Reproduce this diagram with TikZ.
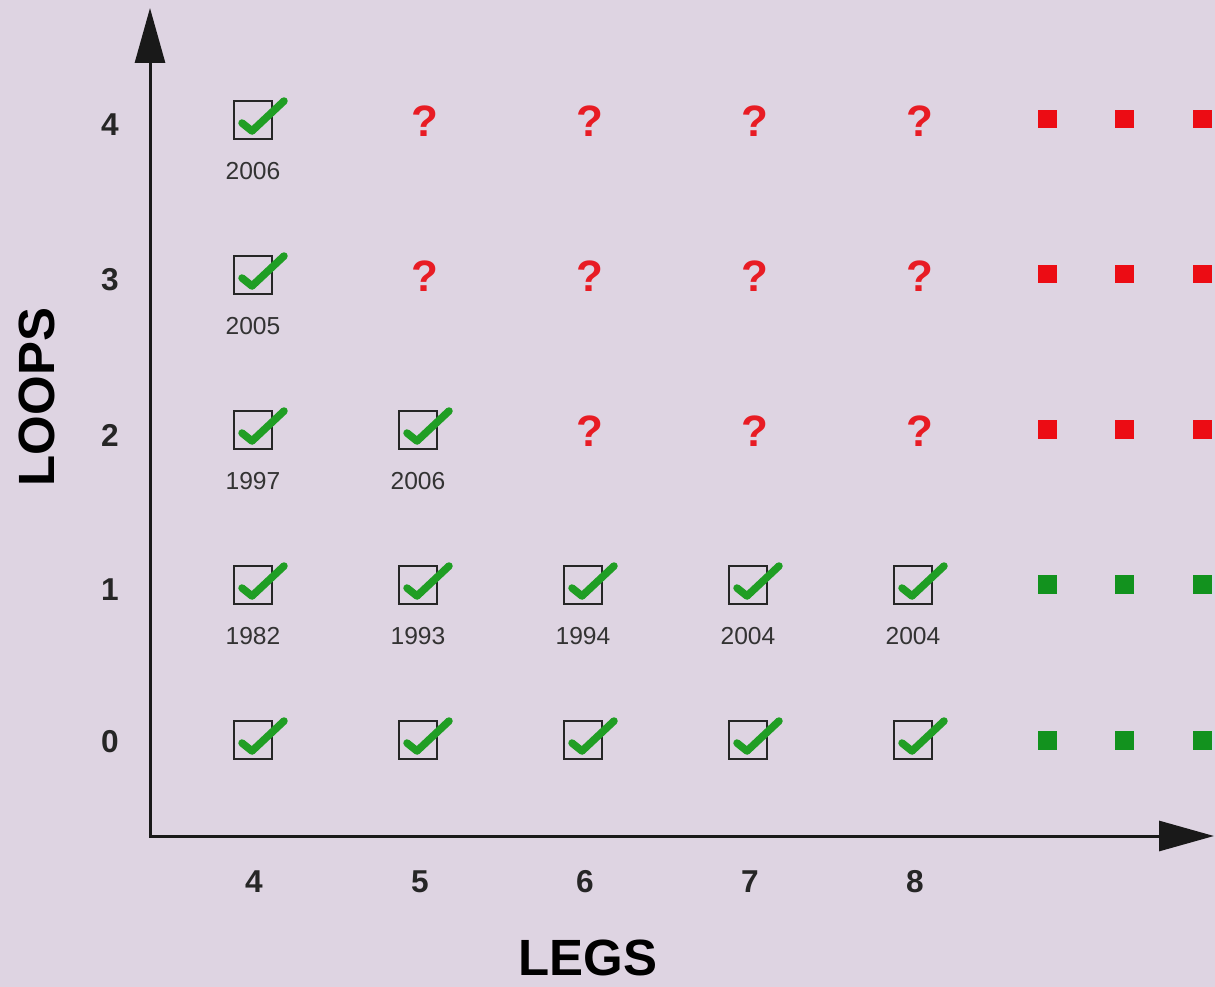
\documentclass[tikz,border=0pt]{standalone}
\usepackage{fontspec}
\setmainfont{Liberation Sans}
\usepackage{xcolor}
\usepackage{tikz}
\usetikzlibrary{positioning,arrows.meta}

\definecolor{bglav}{RGB}{222,212,226}
\definecolor{tickgreen}{RGB}{32,158,36}
\definecolor{qred}{RGB}{232,28,36}
\definecolor{dotred}{RGB}{236,12,20}
\definecolor{dotgreen}{RGB}{18,146,30}

\begin{document}
\begin{tikzpicture}[
  x=0.02cm, y=-0.02cm,
  every node/.style={font=\fontsize{18}{20}\selectfont\bfseries,text=black!85},
  box/.style  ={rectangle,draw=black!85,line width=0.8pt,minimum size=7.6mm,inner sep=0pt},
  tickln/.style={draw=tickgreen,line width=0.15cm,line cap=round,line join=round},
  year/.style ={font=\fontsize{14}{16}\selectfont,text=black!80,inner sep=0pt},
  qm/.style   ={font=\fontsize{25}{28}\selectfont\bfseries,text=qred,inner sep=0pt},
  rdot/.style ={rectangle,fill=dotred,minimum size=3.8mm,inner sep=0pt},
  gdot/.style ={rectangle,fill=dotgreen,minimum size=3.8mm,inner sep=0pt},
  title/.style={font=\fontsize{29}{32}\selectfont\bfseries,text=black,inner sep=0pt},
  axis/.style ={line width=0.06cm,black!90,
                {Triangle[length=1.1cm,width=0.6cm]}-{Triangle[length=1.1cm,width=0.6cm]}},
  ticked/.pic={
    \node[box] (-b) {};
    \draw[tickln] (-11,3) -- (-1,11) -- (31,-19);
  },
]
\fill[bglav] (0,0) rectangle (1215,987);
\useasboundingbox (0,0) rectangle (1215,987);

% axes
\coordinate (ytop) at (150,8);
\coordinate (orig) at (150,836);
\coordinate (xend) at (1214,836);
\draw[axis] (ytop) -- (orig) -- (xend);

\node[title,rotate=90] (loops) at (37,397) {LOOPS};
\node[title]           (legs)  at (588,958) {LEGS};

% tick labels
\node (l4) at (110,125) {4};
\node (l3) at (110,280) {3};
\node (l2) at (110,435) {2};
\node (l1) at (110,590) {1};
\node (l0) at (110,742) {0};

\node (g4) at (254,882) {4};
\node (g5) at (420,882) {5};
\node (g6) at (585,882) {6};
\node (g7) at (750,882) {7};
\node (g8) at (915,882) {8};

% row 4 loops
\pic (c44) at (253,120) {ticked};
\node[year,below=4.5mm of c44-b] (y44) {2006};
\node[qm] (q54) at (425,121) {?};
\node[qm] (q64) at (590,121) {?};
\node[qm] (q74) at (755,121) {?};
\node[qm] (q84) at (920,121) {?};
\node[rdot] (d4a) at (1047,119) {};
\node[rdot] (d4b) at (1124,119) {};
\node[rdot] (d4c) at (1202,119) {};

% row 3 loops
\pic (c43) at (253,275) {ticked};
\node[year,below=4.5mm of c43-b] (y43) {2005};
\node[qm] (q53) at (425,276) {?};
\node[qm] (q63) at (590,276) {?};
\node[qm] (q73) at (755,276) {?};
\node[qm] (q83) at (920,276) {?};
\node[rdot] (d3a) at (1047,274) {};
\node[rdot] (d3b) at (1124,274) {};
\node[rdot] (d3c) at (1202,274) {};

% row 2 loops
\pic (c42) at (253,430) {ticked};
\node[year,below=4.5mm of c42-b] (y42) {1997};
\pic (c52) at (418,430) {ticked};
\node[year,below=4.5mm of c52-b] (y52) {2006};
\node[qm] (q62) at (590,431) {?};
\node[qm] (q72) at (755,431) {?};
\node[qm] (q82) at (920,431) {?};
\node[rdot] (d2a) at (1047,429) {};
\node[rdot] (d2b) at (1124,429) {};
\node[rdot] (d2c) at (1202,429) {};

% row 1 loop
\pic (c41) at (253,585) {ticked};
\node[year,below=4.5mm of c41-b] (y41) {1982};
\pic (c51) at (418,585) {ticked};
\node[year,below=4.5mm of c51-b] (y51) {1993};
\pic (c61) at (583,585) {ticked};
\node[year,below=4.5mm of c61-b] (y61) {1994};
\pic (c71) at (748,585) {ticked};
\node[year,below=4.5mm of c71-b] (y71) {2004};
\pic (c81) at (913,585) {ticked};
\node[year,below=4.5mm of c81-b] (y81) {2004};
\node[gdot] (d1a) at (1047,584) {};
\node[gdot] (d1b) at (1124,584) {};
\node[gdot] (d1c) at (1202,584) {};

% row 0 loops (tree level)
\pic (c40) at (253,740) {ticked};
\pic (c50) at (418,740) {ticked};
\pic (c60) at (583,740) {ticked};
\pic (c70) at (748,740) {ticked};
\pic (c80) at (913,740) {ticked};
\node[gdot] (d0a) at (1047,740) {};
\node[gdot] (d0b) at (1124,740) {};
\node[gdot] (d0c) at (1202,740) {};
\end{tikzpicture}
\end{document}
